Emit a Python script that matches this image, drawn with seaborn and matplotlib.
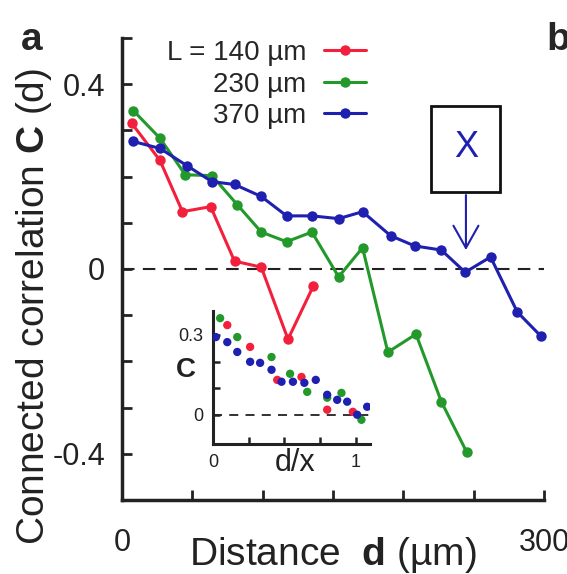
import numpy as np
import pandas as pd
import seaborn as sns
import matplotlib.pyplot as plt
from matplotlib.patches import Rectangle

# main panel: distance d (um) vs connected correlation C(d)
d_140 = [7, 27, 43, 63, 80, 99, 118, 136]
c_140 = [0.315, 0.235, 0.124, 0.135, 0.017, 0.004, -0.152, -0.037]

d_230 = [8, 27, 45, 64, 82, 99, 117, 135, 154, 171, 189, 209, 227, 245]
c_230 = [0.343, 0.283, 0.204, 0.202, 0.139, 0.080, 0.059, 0.080, -0.017, 0.046,
         -0.180, -0.141, -0.287, -0.396]

d_370 = [8, 27, 46, 64, 80, 99, 117, 135, 154, 171, 191, 208, 227, 244, 262, 281, 298]
c_370 = [0.276, 0.261, 0.224, 0.189, 0.183, 0.157, 0.115, 0.115, 0.109, 0.124,
         0.072, 0.050, 0.041, -0.007, 0.026, -0.093, -0.146]

# inset: rescaled distance d/x
r_140 = [0.10, 0.26, 0.45, 0.62, 0.80, 0.98]
ci_140 = [0.337, 0.255, 0.131, 0.142, 0.019, 0.011]
r_230 = [0.05, 0.17, 0.41, 0.54, 0.66, 0.80, 0.90, 1.04]
ci_230 = [0.363, 0.292, 0.217, 0.154, 0.086, 0.064, 0.082, -0.019]
r_370 = [0.02, 0.10, 0.17, 0.26, 0.33, 0.41, 0.48, 0.56, 0.64, 0.72, 0.80, 0.87, 0.94, 1.01, 1.08]
ci_370 = [0.292, 0.273, 0.236, 0.199, 0.195, 0.169, 0.124, 0.124, 0.120, 0.131,
          0.075, 0.056, 0.049, 0.0, 0.030]

labels = ['L = 140 µm', '230 µm', '370 µm']
colors = ['#f2203c', '#22992a', '#1f1fb0']

main = pd.concat([
    pd.DataFrame({'d': d_140, 'C': c_140, 'L': labels[0]}),
    pd.DataFrame({'d': d_230, 'C': c_230, 'L': labels[1]}),
    pd.DataFrame({'d': d_370, 'C': c_370, 'L': labels[2]}),
])
inset = pd.concat([
    pd.DataFrame({'r': r_140, 'c': ci_140, 'L': labels[0]}),
    pd.DataFrame({'r': r_230, 'c': ci_230, 'L': labels[1]}),
    pd.DataFrame({'r': r_370, 'c': ci_370, 'L': labels[2]}),
])
pal = dict(zip(labels, colors))

sns.set_theme(style='ticks')
plt.rcParams['font.family'] = ['Liberation Sans', 'DejaVu Sans']
plt.rcParams['mathtext.fontset'] = 'custom'
plt.rcParams['mathtext.rm'] = 'Liberation Sans'
plt.rcParams['mathtext.bf'] = 'Liberation Sans:bold'

fig = plt.figure(figsize=(5.67, 5.74), dpi=100)
ax = fig.add_axes([122/567, 74/574, 422/567, 462/574])

sns.lineplot(data=main, x='d', y='C', hue='L', palette=pal, sort=False, estimator=None,
             marker='o', markersize=7.5, markeredgewidth=0, linewidth=2.2,
             legend=False, ax=ax, clip_on=False)
handles = list(ax.lines[:3])
ax.axhline(0, color='#222222', lw=1.5, dashes=(6, 4), zorder=0)

ax.set_xlim(0, 300)
ax.set_ylim(-0.5, 0.5)
ax.set_xticks(np.arange(0, 301, 50))
ax.set_xticklabels(['0', '', '', '', '', '', '300'])
ax.set_yticks(np.round(np.arange(-0.5, 0.51, 0.1), 1))
ax.set_yticklabels(['', '-0.4', '', '', '', '0', '', '', '', '0.4', ''])
ax.tick_params(axis='both', direction='in', length=7, width=2, labelsize=22, colors='#222222')
ax.tick_params(axis='x', pad=20)
ax.tick_params(axis='y', pad=12)
sns.despine(ax=ax)
for s in ['left', 'bottom']:
    ax.spines[s].set_linewidth(2.5)
    ax.spines[s].set_color('#222222')

ax.set_xlabel('Distance  $\\mathbf{d}$ (µm)', fontsize=28, color='#222222')
ax.xaxis.set_label_coords(0.5, -0.076)
ax.set_ylabel('Connected correlation $\\mathbf{C}$ (d)', fontsize=28, color='#222222')
ax.yaxis.set_label_coords(-0.16, 0.42)

ax.legend(handles, labels, loc='upper right', bbox_to_anchor=(366/567, 1 - 40/574),
          bbox_transform=fig.transFigure, frameon=False, markerfirst=False,
          fontsize=20, handlelength=1.5, handletextpad=0.65, labelspacing=0.2,
          borderpad=0, borderaxespad=0)

# box marking the characteristic length x
ax.add_patch(Rectangle((220, 0.166), 48.5, 0.186, fill=False, ec='#111111', lw=2))
ax.text(244.5, 0.262, 'X', color=colors[2], fontsize=26, ha='center', va='center')
ax.annotate('', xy=(244.5, 0.035), xytext=(244.5, 0.166),
            arrowprops=dict(arrowstyle='->, head_length=0.8, head_width=0.45',
                            color=colors[2], lw=1.5, mutation_scale=20))

fig.text(32/567, 1 - 50/574, 'a', fontsize=28, fontweight='bold', ha='center', va='baseline')
fig.text(546/567, 1 - 50/574, 'b', fontsize=28, fontweight='bold', ha='left', va='baseline')

# inset
ax_in = fig.add_axes([213/567, 130/574, 157/567, 133/574])
ax_in.patch.set_alpha(0)
ax_in.axhline(0, color='#222222', lw=1.3, dashes=(5, 4), zorder=0)
sns.scatterplot(data=inset, x='r', y='c', hue='L', palette=pal, s=36, edgecolor='none',
                legend=False, ax=ax_in, zorder=3)
ax_in.set_xlim(0, 1.1)
ax_in.set_ylim(-0.11, 0.39)
ax_in.set_xticks([0, 0.25, 0.5, 0.75, 1.0])
ax_in.set_xticklabels(['0', '', '', '', '1'])
ax_in.set_yticks([0, 0.1, 0.2, 0.3])
ax_in.set_yticklabels(['0', '', '', '0.3'])
ax_in.tick_params(axis='both', direction='in', length=5, width=1.8, labelsize=13, colors='#222222')
ax_in.tick_params(axis='x', pad=7)
ax_in.tick_params(axis='y', pad=7)
sns.despine(ax=ax_in)
for s in ['left', 'bottom']:
    ax_in.spines[s].set_linewidth(2.2)
    ax_in.spines[s].set_color('#222222')
ax_in.set_xlabel('d/x', fontsize=22, color='#222222')
ax_in.xaxis.set_label_coords(0.52, -0.03)
ax_in.set_ylabel('')
ax_in.text(-0.17, 0.56, 'C', transform=ax_in.transAxes, fontsize=20, fontweight='bold',
           ha='center', va='center', color='#222222')

fig.savefig('out.png', dpi=100)
